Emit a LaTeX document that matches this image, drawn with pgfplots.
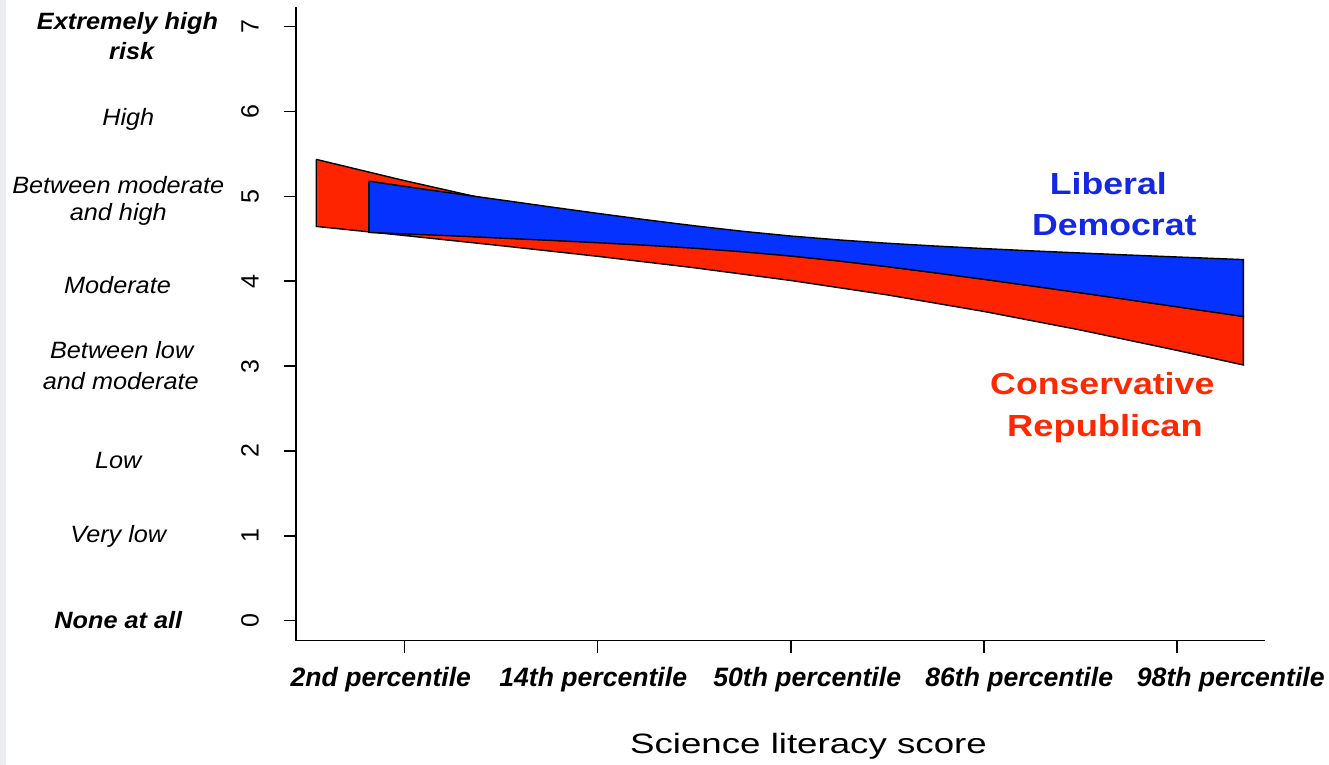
\documentclass[border=0pt]{standalone}
\usepackage{fontspec}
\setmainfont{Liberation Sans}
\usepackage{graphicx}
\usepackage{pgfplots}
\pgfplotsset{compat=1.18}
\definecolor{rband}{RGB}{255,36,0}
\definecolor{bband}{RGB}{5,50,255}
\definecolor{btext}{RGB}{20,40,225}
\definecolor{rtext}{RGB}{255,40,0}
\definecolor{edgegray}{RGB}{236,237,240}

\begin{document}
\begin{tikzpicture}[x=1pt,y=1pt]
\path[use as bounding box] (0,0) rectangle (664.5,382.5);
\fill[edgegray] (0,0) rectangle (3.2,382.5);
\begin{axis}[
  at={(148pt,62.15pt)}, anchor=south west,
  scale only axis, width=484.5pt, height=316.85pt,
  xmin=-2.561, xmax=2.455, ymin=-0.236, ymax=7.232,
  axis lines=left, axis line style={-, line width=0.8pt, black},
  tick align=outside, major tick length=6pt,
  tick style={line width=0.8pt, black},
  xtick={-2,-1,0,1,2},
  xticklabels={},
  ytick={0,1,2,3,4,5,6,7},
  yticklabel style={font=\fontsize{12.5}{15}\selectfont, xshift=-12.75pt, rotate=90, anchor=base},
  /pgf/number format/assume math mode=true,
  clip=false,
]
% Conservative Republican band
\addplot[fill=rband, draw=black, line width=0.7pt] coordinates {
 (-2.456,5.436) (-2,5.186) (-1.5,4.93) (-1,4.66) (-0.5,4.45) (0,4.301) (0.25,4.242) (0.5,4.175) (0.75,4.102) (1,4.026) (1.25,3.947) (1.5,3.867) (1.75,3.785) (2,3.702) (2.343,3.588)
 (2.343,3.013) (2,3.185) (1.5,3.425) (1,3.644) (0.5,3.839) (0,4.009) (-0.5,4.159) (-1,4.294) (-1.5,4.419) (-2,4.539) (-2.456,4.646)
 (-2.456,5.436)
};
% Liberal Democrat band
\addplot[fill=bband, draw=black, line width=0.7pt] coordinates {
 (-2.184,5.180) (-2,5.119) (-1.75,5.037) (-1.5,4.958) (-1.25,4.878) (-1,4.800) (-0.75,4.725) (-0.5,4.654) (-0.25,4.589) (0,4.533) (0.25,4.487) (0.5,4.448) (0.75,4.415) (1,4.385) (1.25,4.358) (1.5,4.333) (1.75,4.309) (2,4.286) (2.343,4.255)
 (2.343,3.584) (2,3.698) (1.75,3.781) (1.5,3.863) (1.25,3.943) (1,4.022) (0.75,4.098) (0.5,4.171) (0.25,4.238) (0,4.297) (-0.25,4.347) (-0.5,4.389) (-0.75,4.424) (-1,4.454) (-1.25,4.482) (-1.5,4.508) (-1.75,4.535) (-2,4.558) (-2.184,4.575)
 (-2.184,5.180)
};
\end{axis}
\begin{scope}[every node/.style={anchor=base, inner sep=0pt}]
% x tick labels
\node[font=\fontsize{13.3}{16}\selectfont\bfseries\itshape] at (190.4,39.15) {2nd percentile};
\node[font=\fontsize{13.3}{16}\selectfont\bfseries\itshape] at (296.6,39.15) {14th percentile};
\node[font=\fontsize{13.3}{16}\selectfont\bfseries\itshape] at (403.6,39.15) {50th percentile};
\node[font=\fontsize{13.3}{16}\selectfont\bfseries\itshape] at (509.6,39.15) {86th percentile};
\node[font=\fontsize{13.3}{16}\selectfont\bfseries\itshape] at (615.4,39.15) {98th percentile};
% y-axis category labels
\node[font=\fontsize{11.8}{14}\selectfont\bfseries\itshape] at (63.75,367.8) {\scalebox{1.07}[1]{Extremely high}};
\node[font=\fontsize{11.8}{14}\selectfont\bfseries\itshape] at (65.85,352.85) {\scalebox{1.07}[1]{risk}};
\node[font=\fontsize{11.8}{14}\selectfont\itshape] at (64.15,319.5) {\scalebox{1.07}[1]{High}};
\node[font=\fontsize{11.8}{14}\selectfont\itshape] at (59.15,285.85) {\scalebox{1.07}[1]{Between moderate}};
\node[font=\fontsize{11.8}{14}\selectfont\itshape] at (59.15,272) {\scalebox{1.07}[1]{and high}};
\node[font=\fontsize{11.8}{14}\selectfont\itshape] at (58.75,235.85) {\scalebox{1.07}[1]{Moderate}};
\node[font=\fontsize{11.8}{14}\selectfont\itshape] at (60.85,203) {\scalebox{1.07}[1]{Between low}};
\node[font=\fontsize{11.8}{14}\selectfont\itshape] at (60.4,187.85) {\scalebox{1.07}[1]{and moderate}};
\node[font=\fontsize{11.8}{14}\selectfont\itshape] at (59.15,148.35) {\scalebox{1.07}[1]{Low}};
\node[font=\fontsize{11.8}{14}\selectfont\itshape] at (59.15,111) {\scalebox{1.07}[1]{Very low}};
\node[font=\fontsize{11.8}{14}\selectfont\bfseries\itshape] at (59.15,68) {\scalebox{1.07}[1]{None at all}};
% series labels
\node[font=\fontsize{15.25}{18}\selectfont\bfseries, text=btext] at (554.15,285) {\scalebox{1.17}[1]{Liberal}};
\node[font=\fontsize{15.25}{18}\selectfont\bfseries, text=btext] at (557.15,264.5) {\scalebox{1.17}[1]{Democrat}};
\node[font=\fontsize{15.25}{18}\selectfont\bfseries, text=rtext] at (551.15,185) {\scalebox{1.17}[1]{Conservative}};
\node[font=\fontsize{15.25}{18}\selectfont\bfseries, text=rtext] at (552.5,164.15) {\scalebox{1.19}[1]{Republican}};
% x-axis title
\node[font=\fontsize{14}{17}\selectfont] at (404.25,5.85) {\scalebox{1.31}[1]{Science literacy score}};
\end{scope}
\end{tikzpicture}
\end{document}
